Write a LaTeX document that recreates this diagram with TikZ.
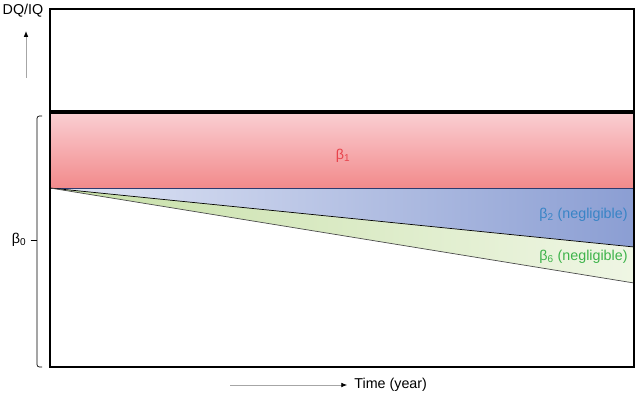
\documentclass[tikz,border=0pt]{standalone}
\usepackage{fontspec}
\setmainfont{Liberation Sans}
\usetikzlibrary{positioning,arrows.meta}

\definecolor{redtop}{HTML}{FACDD1}
\definecolor{redbot}{HTML}{F28A8B}
\definecolor{blueleft}{HTML}{E1E6F5}
\definecolor{blueright}{HTML}{8B9ED3}
\definecolor{greenleft}{HTML}{C6DFA6}
\definecolor{greenright}{HTML}{EFF6E4}
\definecolor{redtext}{HTML}{E8434B}
\definecolor{bluetext}{HTML}{3884C6}
\definecolor{greentext}{HTML}{3DB34A}
\definecolor{navyline}{HTML}{2E3A6E}

\tikzset{
  lbl/.style={inner sep=1pt, font=\fontsize{12.2}{14}\selectfont},
  axisarrow/.style={draw=gray!70, line width=0.7pt, -{Latex[length=5pt,width=4pt,black]}},
}

\begin{document}
\begin{tikzpicture}[x=0.03cm, y=-0.03cm]
\useasboundingbox (0,0) rectangle (637,394);

% bands
\shade[top color=redtop, bottom color=redbot] (50,114) rectangle (634,188);
\shade[left color=blueleft, right color=blueright] (50,188) -- (634,188) -- (634,247) -- cycle;
\shade[left color=greenleft, right color=greenright] (50,188) -- (634,247) -- (634,283) -- cycle;
\draw[navyline, line width=0.6pt] (50,188) -- (634,188);
\draw[black, line width=0.6pt] (50,188) -- (634,247);
\draw[black!70, line width=0.6pt] (50,188) -- (634,283);

% frame and upper limit
\draw[line width=0.9pt] (50,9) rectangle (634,367);
\draw[line width=4pt] (50,112) -- (634,112);

% labels in the bands
\node[lbl, text=redtext] (b1) at (343,156) {β\textsubscript{1}};
\node[lbl, text=bluetext, anchor=east] (b2) at (629,215) {β\textsubscript{2} (negligible)};
\node[lbl, text=greentext, anchor=east] (b6) at (629,257) {β\textsubscript{6} (negligible)};

% vertical axis
\node[lbl] (dq) at (23,11) {DQ/IQ};
\coordinate (upbot) at (26,78);
\coordinate (uptop) at (26,31);
\draw[axisarrow] (upbot) -- (uptop);

% bracket for beta0
\coordinate (brtop) at (42,116);
\coordinate (brbot) at (42,367);
\coordinate (brmid) at (37,240);
\draw[line width=0.6pt, rounded corners=2pt] (brtop) -- (37,116) -- (brmid) -- (37,367) -- (brbot);
\node[lbl] (b0) at (19,240) {β\textsubscript{0}};
\draw[line width=0.6pt] (b0.east) ++(3,0) -- (brmid);

% time axis
\node[lbl, anchor=west] (time) at (353,385) {Time (year)};
\coordinate (tstart) at (230,385);
\draw[axisarrow, shorten >=5pt] (tstart) -- (time.west);
\end{tikzpicture}
\end{document}
